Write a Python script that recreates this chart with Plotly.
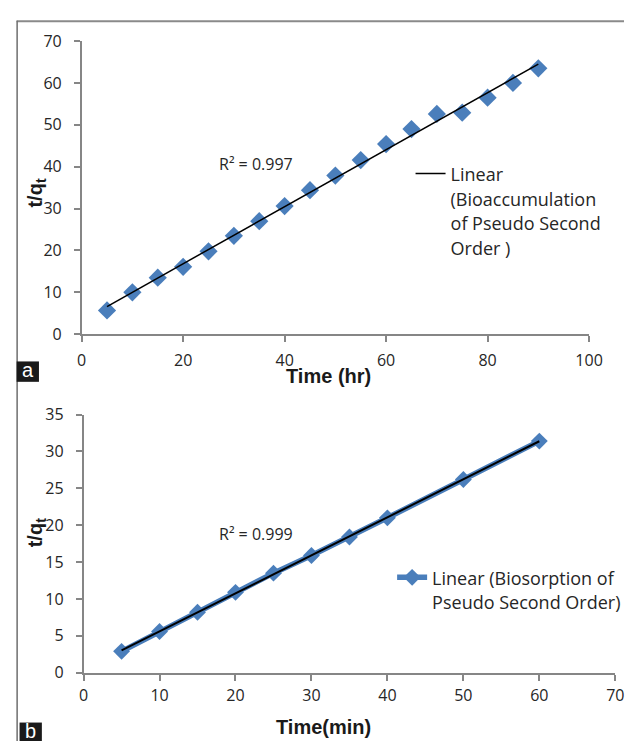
import numpy as np
import plotly.graph_objects as go

# ---- data ----
time_hr = [5, 10, 15, 20, 25, 30, 35, 40, 45, 50, 55, 60, 65, 70, 75, 80, 85, 90]
tq_bioacc = [5.7, 10.0, 13.5, 16.1, 19.8, 23.5, 27.0, 30.6, 34.4, 37.9, 41.6, 45.4,
             49.0, 52.6, 52.9, 56.5, 60.0, 63.5]
time_min = [5, 10, 15, 20, 25, 30, 35, 40, 50, 60]
tq_biosorp = [2.9, 5.6, 8.2, 10.9, 13.5, 15.9, 18.4, 21.0, 26.2, 31.4]

r2_a = "R² = 0.997"
r2_b = "R² = 0.999"
xticks_a = [0, 20, 40, 60, 80, 100]
yticks_a = [0, 10, 20, 30, 40, 50, 60, 70]
xticks_b = [0, 10, 20, 30, 40, 50, 60, 70]
yticks_b = [0, 5, 10, 15, 20, 25, 30, 35]

legend_a_lines = ["Linear", "(Bioaccumulation", "of Pseudo Second", "Order )"]
legend_b_lines = ["Linear (Biosorption of", "Pseudo Second Order)"]

W, H = 638, 752
BLUE = "#4a7ebb"
AXC = "#868686"
TXT = "#262626"
FONT = "Open Sans"
TICKFONT = dict(family=FONT, size=16, color=TXT)


def px(x):
    return x / W


def py(y):
    return 1 - y / H


def legend_name(lines):
    return "<br>".join("<span style='font-size:18px'>%s</span>" % s for s in lines)


# linear fits
ca = np.polyfit(time_hr, tq_bioacc, 1)
cb = np.polyfit(time_min, tq_biosorp, 1)
fx_a = [min(time_hr), max(time_hr)]
fy_a = list(np.polyval(ca, fx_a))
fx_b = [min(time_min), max(time_min)]
fy_b = list(np.polyval(cb, fx_b))

fig = go.Figure()

# panel a
fig.add_trace(go.Scatter(x=time_hr, y=tq_bioacc, mode="markers",
                         marker=dict(symbol="diamond", size=14, color=BLUE),
                         showlegend=False, xaxis="x", yaxis="y"))
fig.add_trace(go.Scatter(x=fx_a, y=fy_a, mode="lines",
                         line=dict(color="black", width=1.5),
                         name=legend_name(legend_a_lines),
                         legend="legend", xaxis="x", yaxis="y"))

# panel b
fig.add_trace(go.Scatter(x=time_min, y=tq_biosorp, mode="lines+markers",
                         marker=dict(symbol="diamond", size=13, color=BLUE),
                         line=dict(color=BLUE, width=5.5),
                         name=legend_name(legend_b_lines),
                         legend="legend2", xaxis="x2", yaxis="y2"))
fig.add_trace(go.Scatter(x=fx_b, y=fy_b, mode="lines",
                         line=dict(color="black", width=2),
                         showlegend=False, xaxis="x2", yaxis="y2"))

axis_common = dict(showgrid=False, zeroline=False, showline=True, linecolor=AXC,
                   linewidth=1.5, ticks="outside", ticklen=6, tickcolor=AXC,
                   tickwidth=1.5, tickfont=TICKFONT)

fig.update_layout(
    width=W, height=H, margin=dict(l=0, r=0, t=0, b=0),
    paper_bgcolor="white", plot_bgcolor="white",
    xaxis=dict(domain=[px(79), px(602)], range=[0, 100], tickvals=xticks_a,
               anchor="y", ticklabelstandoff=5, **axis_common),
    yaxis=dict(domain=[py(333), py(31)], range=[0, 70], tickvals=yticks_a,
               anchor="x", ticklabelstandoff=9, **axis_common),
    xaxis2=dict(domain=[px(81), px(629)], range=[0, 70], tickvals=xticks_b,
                anchor="y2", ticklabelstandoff=1, **axis_common),
    yaxis2=dict(domain=[py(681.7), py(415.7)], range=[0, 35], tickvals=yticks_b,
                anchor="x2", ticklabelstandoff=9, **axis_common),
    legend=dict(x=px(418), y=py(148), xanchor="left", yanchor="top",
                font=dict(family=FONT, size=19, color=TXT),
                bgcolor="rgba(0,0,0,0)", valign="top", itemwidth=30),
    legend2=dict(x=px(399), y=py(564), xanchor="left", yanchor="top",
                 font=dict(family=FONT, size=19, color=TXT),
                 bgcolor="rgba(0,0,0,0)", valign="top", itemwidth=30),
)


def note(text, x, y, font, angle=0):
    fig.add_annotation(text=text, x=px(x), y=py(y), xref="paper", yref="paper",
                       xanchor="center", yanchor="middle", showarrow=False,
                       textangle=angle, font=font)


rfont = dict(family=FONT, size=16, color=TXT)
note(r2_a, 259, 158, rfont)
note(r2_b, 259, 539, rfont)

title_font = dict(family="Liberation Sans", size=20, color="#1a1a1a")
note("<b>Time (hr)</b>", 333, 376, title_font)
note("<b>Time(min)</b>", 328, 738, title_font)
note("<b>t/q<sub>t</sub></b>", 32, 188, title_font, -90)
note("<b>t/q<sub>t</sub></b>", 32, 538, title_font, -90)

# border lines
fig.add_shape(type="line", xref="paper", yref="paper", x0=px(12), x1=1, y0=py(10.5), y1=py(10.5),
              line=dict(color="#8a8a8a", width=2))
fig.add_shape(type="line", xref="paper", yref="paper", x0=px(12.5), x1=px(12.5), y0=py(10), y1=0,
              line=dict(color="#6e6e6e", width=1.5))

# panel letter boxes
fig.add_shape(type="rect", xref="paper", yref="paper", x0=px(12), x1=px(35), y0=py(382), y1=py(361),
              fillcolor="#1a1a1a", line=dict(width=0))
fig.add_shape(type="rect", xref="paper", yref="paper", x0=px(15), x1=px(38), y0=0, y1=py(733),
              fillcolor="#1a1a1a", line=dict(width=0))
letter_font = dict(family="Liberation Sans", size=20, color="white")
note("a", 23.5, 370, letter_font)
note("b", 26.5, 742, letter_font)

fig.write_html("out.html")
